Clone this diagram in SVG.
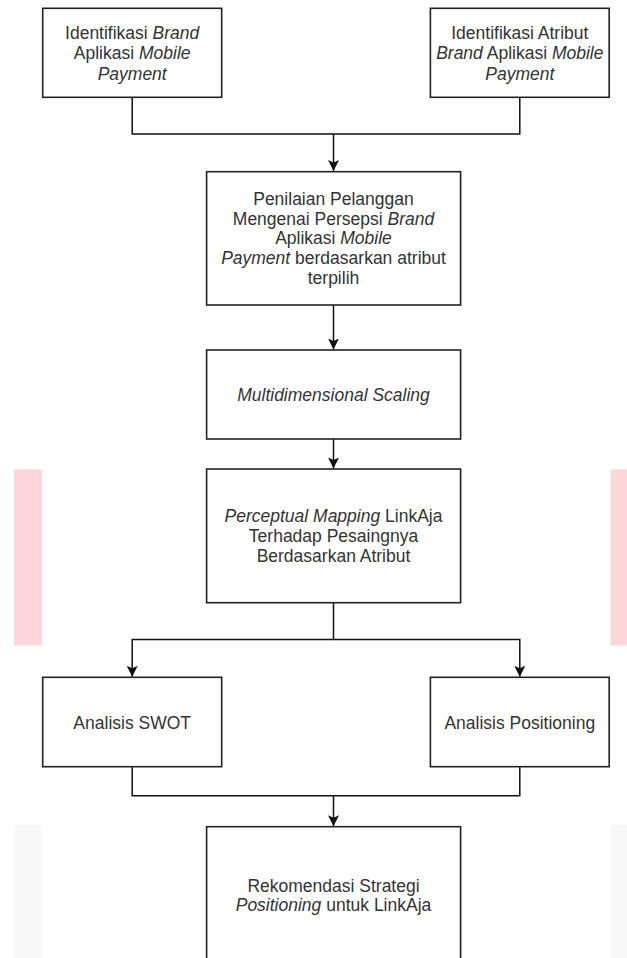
<svg xmlns="http://www.w3.org/2000/svg" width="627" height="958" viewBox="0 0 627 958">
<defs>
<style>
.box{fill:#ffffff;stroke:#222222;stroke-width:1.6}
.t{font-family:"Liberation Sans",Arial,sans-serif;font-size:17.5px;fill:#333333;text-anchor:middle}
.i{font-style:italic}
.c{fill:none;stroke:#111111;stroke-width:1.5}
</style>
<marker id="arr" markerUnits="userSpaceOnUse" markerWidth="12" markerHeight="12" refX="11" refY="5.5" orient="auto">
<path d="M0,0 L11,5.5 L0,11 L2.5,5.5 z" fill="#111111"/>
</marker>
</defs>
<rect width="627" height="958" fill="#ffffff"/>
<g id="bg">
<rect x="14" y="469.5" width="28" height="176" fill="#fdd6db"/>
<rect x="610.5" y="469.5" width="16.5" height="176" fill="#fdd6db"/>
<rect x="14" y="825" width="28" height="133" fill="#f8f8f8"/>
<rect x="610.5" y="825" width="16.5" height="133" fill="#f8f8f8"/>
</g>
<g id="connectors">
<path class="c" d="M132.2,97.3 V134 H333.5 M519.8,97.3 V134 H333.5 V171" marker-end="url(#arr)"/>
<path class="c" d="M333.5,305 V349.5" marker-end="url(#arr)"/>
<path class="c" d="M333.5,439 V468.5" marker-end="url(#arr)"/>
<path class="c" d="M333.5,602.7 V639.5 H132.2 V676.8" marker-end="url(#arr)"/>
<path class="c" d="M333.5,639.5 H519.8 V676.8" marker-end="url(#arr)"/>
<path class="c" d="M132.2,766.7 V795.7 H519.8 V766.7"/>
<path class="c" d="M333.5,795.7 V826.2" marker-end="url(#arr)"/>
</g>
<g id="n1">
<rect class="box" x="42.7" y="8.3" width="179" height="89"/>
<text class="t" x="132.2" y="38.6">Identifikasi <tspan class="i">Brand</tspan></text>
<text class="t" x="132.2" y="59.1">Aplikasi <tspan class="i">Mobile</tspan></text>
<text class="t" x="132.2" y="79.6"><tspan class="i">Payment</tspan></text>
</g>
<g id="n2">
<rect class="box" x="430.4" y="8.3" width="178.8" height="89"/>
<text class="t" x="519.8" y="38.6">Identifikasi Atribut</text>
<text class="t" x="519.8" y="59.1"><tspan class="i">Brand</tspan> Aplikasi <tspan class="i">Mobile</tspan></text>
<text class="t" x="519.8" y="79.6"><tspan class="i">Payment</tspan></text>
</g>
<g id="n3">
<rect class="box" x="206.6" y="171.7" width="254" height="133.3"/>
<text class="t" x="333.5" y="204.8">Penilaian Pelanggan</text>
<text class="t" x="333.5" y="224.6">Mengenai Persepsi <tspan class="i">Brand</tspan></text>
<text class="t" x="333.5" y="244.4">Aplikasi <tspan class="i">Mobile</tspan></text>
<text class="t" x="333.5" y="264.2"><tspan class="i">Payment</tspan> berdasarkan atribut</text>
<text class="t" x="333.5" y="284">terpilih</text>
</g>
<g id="n4">
<rect class="box" x="206.6" y="350" width="254" height="89"/>
<text class="t i" x="333.5" y="400.8">Multidimensional Scaling</text>
</g>
<g id="n5">
<rect class="box" x="206.6" y="469" width="254" height="133.7"/>
<text class="t" x="333.5" y="521.6"><tspan class="i">Perceptual Mapping</tspan> LinkAja</text>
<text class="t" x="333.5" y="542">Terhadap Pesaingnya</text>
<text class="t" x="333.5" y="562.4">Berdasarkan Atribut</text>
</g>
<g id="n6">
<rect class="box" x="42.7" y="677.3" width="179" height="89.4"/>
<text class="t" x="132.2" y="729">Analisis SWOT</text>
</g>
<g id="n7">
<rect class="box" x="430.4" y="677.3" width="178.8" height="89.4"/>
<text class="t" x="519.8" y="729">Analisis Positioning</text>
</g>
<g id="n8">
<rect class="box" x="206.6" y="826.7" width="254" height="140"/>
<text class="t" x="333.5" y="891.6">Rekomendasi Strategi</text>
<text class="t" x="333.5" y="911"><tspan class="i">Positioning</tspan> untuk LinkAja</text>
</g>
</svg>
